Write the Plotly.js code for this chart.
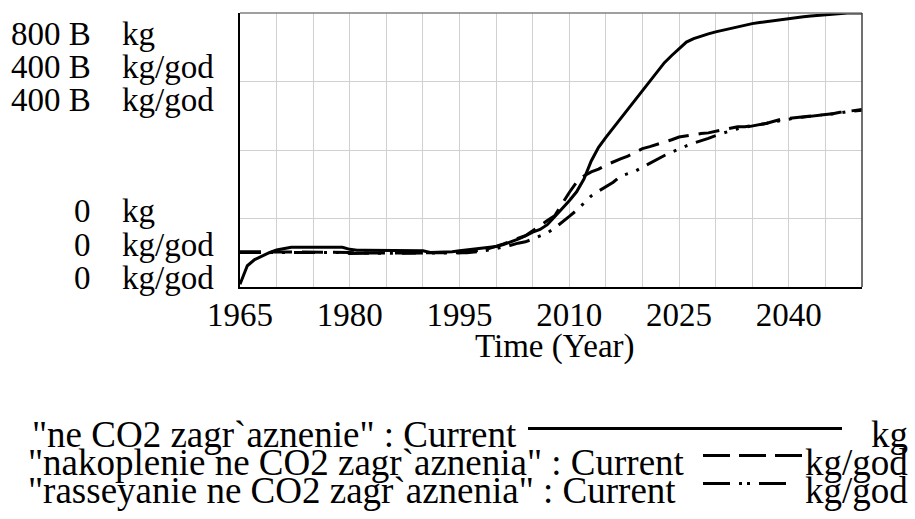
<!DOCTYPE html>
<html>
<head>
<meta charset="utf-8">
<script src="https://cdn.plot.ly/plotly-3.0.1.min.js"></script>
<style>
html,body{margin:0;padding:0;background:#fff;}
#chart{width:915px;height:519px;}
</style>
</head>
<body>
<div id="chart"></div>
<script>
// ---------- data (values in billions) ----------
const years = [
 1965,1966,1967,1968,1969,1970,1971,1972,1973,1974,
 1975,1976,1977,1978,1979,1980,1981,1982,1983,1984,
 1985,1986,1987,1988,1989,1990,1991,1992,1993,1994,
 1995,1996,1997,1998,1999,2000,2001,2002,2003,2004,
 2005,2006,2007,2008,2009,2010,2011,2012,2013,2014,
 2015,2016,2017,2018,2019,2020,2021,2022,2023,2024,
 2025,2026,2027,2028,2029,2030,2031,2032,2033,2034,
 2035,2036,2037,2038,2039,2040,2041,2042,2043,2044,
 2045,2046,2047,2048,2049,2050];

// "ne CO2 zagr`aznenie" (kg, billions)
const zagraznenie = [
 8,62,80,91,100,108,113,116,116,116,
 116,116,116,116,116,110,107,107,107,107,
 107,107,107,107,107,106,101,101,102,103,
 106,108,110,112,114,118,124,131,140,149,
 160,168,182,205,228,252,278,315,368,408,
 437,464,492,520,546,573,600,627,655,676,
 697,715,725,733,739,745,750,754,759,764,
 769,772,775,779,782,785,787,789,791,793,
 795,797,799,800,800,800];

// "nakoplenie ne CO2 zagr`aznenia" (kg/god, billions)
const nakoplenie = [
 51.5,51.5,51.5,51.5,51.5,50.5,50.5,50.5,50.5,50.5,
 50.5,50.5,50.5,50.5,50.5,50.5,49.5,49.5,49.5,49.5,
 49.5,49.5,49.5,49.5,49.5,49.5,49,49,49,49,
 50,51,52,54,56,59,63,67,71,75,
 82,90,97,104,122,138,153,162,168,172,
 178,183,187,191,197,202,205,208,211,215,
 219,221,222,224,225,227,229,231,234,234,
 235,237,239,242,245,246,247,248,249,250,
 252,253,255,256,258,259];

// "rasseyanie ne CO2 zagr`aznenia" (kg/god, billions)
const rasseyanie = [
 50.5,50.5,50.5,50.5,50.5,50.5,50.5,50.5,50.5,50.5,
 50.5,50.5,50.5,50.5,50.5,49,49,49,49,49,
 49,49,49,49,49,49,49,49,49,49,
 49.5,50,51,52,54,56,58,61,64,66,
 70,74,79,86,94,103,112,122,133,140,
 146,153,162,165,169,175,181,187,192,197,
 202,206,210,213,217,221,225,228,231,233,
 235,237,239,241,244,246,247,248,249,250,
 252,253,254,256,257,258];

const xTickVals = [1965,1980,1995,2010,2025,2040];
const xTickText = ['1965','1980','1995','2010','2025','2040'];
const xTitle = 'Time (Year)';
const topValues = ['800 B','400 B','400 B'];
const topUnits = ['kg','kg/god','kg/god'];
const bottomValues = ['0','0','0'];
const bottomUnits = ['kg','kg/god','kg/god'];
const legendNames = ['"ne CO2 zagr`aznenie" : Current',
                     '"nakoplenie ne CO2 zagr`aznenia" : Current',
                     '"rasseyanie ne CO2 zagr`aznenia" : Current'];
const legendUnits = ['kg','kg/god','kg/god'];

// ---------- layout geometry ----------
const W = 915, H = 519;
const L = 240, R = 862, T = 13, B = 287.3;
const px = x => (x - L) / (R - L);
const py = y => (B - y) / (B - T);
const FONT = '"Liberation Serif", "Times New Roman", serif';

const traces = [
 {x: years, y: zagraznenie, type: 'scatter', mode: 'lines', yaxis: 'y',
  line: {color: '#000', width: 3}, name: legendNames[0]},
 {x: years, y: nakoplenie, type: 'scatter', mode: 'lines', yaxis: 'y2',
  line: {color: '#000', width: 3, dash: '21px,10px'}, name: legendNames[1]},
 {x: years, y: rasseyanie, type: 'scatter', mode: 'lines', yaxis: 'y2',
  line: {color: '#000', width: 3, dash: '21px,9px,3px,9px,3px,9px'}, name: legendNames[2]}
];

const ann = [];
const tops = [34, 67, 100.5];
const bots = [211.5, 245, 278];
for (let i = 0; i < 3; i++) {
  ann.push({xref:'paper', yref:'paper', x: px(93), y: py(tops[i]), xanchor:'right', yanchor:'middle',
            text: topValues[i], showarrow:false, font:{family:FONT, size:33, color:'#000'}});
  ann.push({xref:'paper', yref:'paper', x: px(120), y: py(tops[i]), xanchor:'left', yanchor:'middle',
            text: topUnits[i], showarrow:false, font:{family:FONT, size:33, color:'#000'}});
  ann.push({xref:'paper', yref:'paper', x: px(93), y: py(bots[i]), xanchor:'right', yanchor:'middle',
            text: bottomValues[i], showarrow:false, font:{family:FONT, size:33, color:'#000'}});
  ann.push({xref:'paper', yref:'paper', x: px(120), y: py(bots[i]), xanchor:'left', yanchor:'middle',
            text: bottomUnits[i], showarrow:false, font:{family:FONT, size:33, color:'#000'}});
}
// x-axis title
ann.push({xref:'paper', yref:'paper', x: px(555), y: py(347), xanchor:'center', yanchor:'middle',
          text: xTitle, showarrow:false, font:{family:FONT, size:33, color:'#000'}});

const legRows = [435, 463, 491];
const legLeft = [30, 26, 26];
for (let i = 0; i < 3; i++) {
  ann.push({xref:'paper', yref:'paper', x: px(legLeft[i]), y: py(legRows[i]), xanchor:'left', yanchor:'middle',
            text: legendNames[i], showarrow:false, font:{family:FONT, size:37, color:'#000'}});
  ann.push({xref:'paper', yref:'paper', x: px(910), y: py(legRows[i]), xanchor:'right', yanchor:'middle',
            text: legendUnits[i], showarrow:false, font:{family:FONT, size:37, color:'#000'}});
}

const shapes = [
 // plot frame top/right
 {type:'line', xref:'paper', yref:'paper', x0:0, x1:1, y0:1, y1:1, line:{color:'#808080', width:1.5}},
 {type:'line', xref:'paper', yref:'paper', x0:1, x1:1, y0:0, y1:1, line:{color:'#404040', width:1.5}},
 // legend keys
 {type:'line', xref:'paper', yref:'paper', x0:px(528), x1:px(842), y0:py(429), y1:py(429), line:{color:'#000', width:3}},
 {type:'line', xref:'paper', yref:'paper', x0:px(703), x1:px(802), y0:py(456), y1:py(456), line:{color:'#000', width:3, dash:'27px,9px'}},
 {type:'line', xref:'paper', yref:'paper', x0:px(703), x1:px(790), y0:py(484), y1:py(484), line:{color:'#000', width:3, dash:'27px,9px,3px,5px,3px,9px'}}
];

const layout = {
  width: W, height: H,
  margin: {l: L, r: W - R, t: T, b: H - B},
  paper_bgcolor: '#fff', plot_bgcolor: '#fff',
  showlegend: false,
  font: {family: FONT, color: '#000', size: 33},
  xaxis: {
    range: [1965, 2050], tickmode: 'array', tickvals: xTickVals, ticktext: xTickText,
    showgrid: true, gridcolor: '#d0d0d0', gridwidth: 1,
    minor: {dtick: 5, tick0: 1965, showgrid: true, gridcolor: '#d0d0d0', gridwidth: 1},
    showline: true, linecolor: '#000', linewidth: 2, ticks: '', zeroline: false,
    ticklabelstandoff: -3,
    tickfont: {family: FONT, size: 33, color: '#000'}
  },
  yaxis: {
    range: [0, 800], dtick: 200, showticklabels: false, ticks: '',
    showgrid: true, gridcolor: '#d0d0d0', gridwidth: 1,
    showline: true, linecolor: '#000', linewidth: 2, zeroline: false
  },
  yaxis2: {
    range: [0, 400], overlaying: 'y', showticklabels: false, ticks: '',
    showgrid: false, zeroline: false
  },
  annotations: ann,
  shapes: shapes
};

Plotly.newPlot('chart', traces, layout, {displayModeBar: false, staticPlot: true});
</script>
</body>
</html>
